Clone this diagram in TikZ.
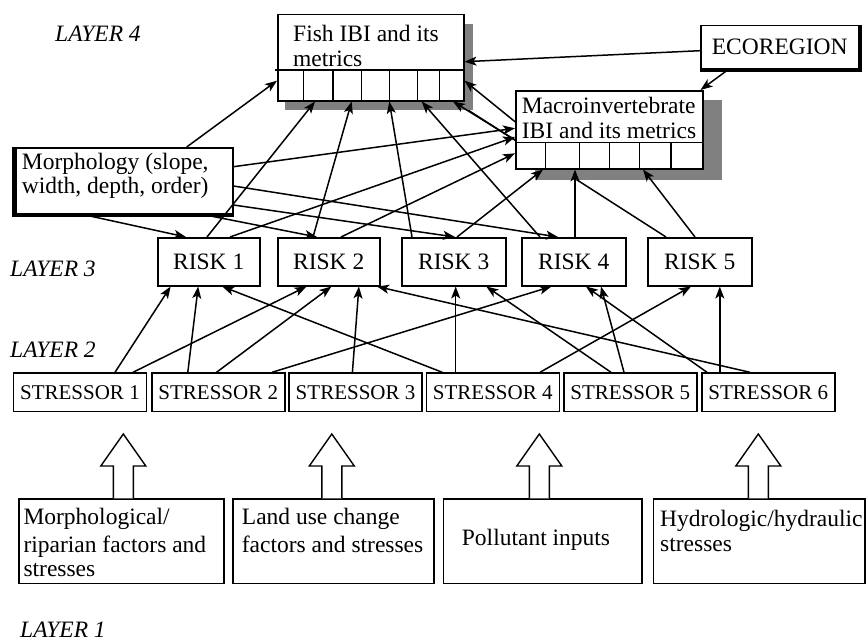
\documentclass[tikz,border=0pt]{standalone}
\usepackage{fontspec}
\setmainfont{Liberation Serif}
\usetikzlibrary{arrows.meta}
\definecolor{shadowgray}{RGB}{128,128,128}
\newcommand\mainsz{\fontsize{23.5}{25}\selectfont}
\newcommand\strsz{\fontsize{21}{22}\selectfont}
\begin{document}
\begin{tikzpicture}[x=1pt,y=-1pt,
  box/.style={draw, line width=1.5pt, fill=white, inner sep=0pt, anchor=north west, font=\mainsz},
  sbox/.style={box, font=\strsz, minimum width=133pt, minimum height=38.4pt},
  rbox/.style={box, minimum height=48pt},
  bbox/.style={box, minimum height=84.4pt},
  txt/.style={inner sep=0pt, anchor=base west, font=\mainsz},
  layer/.style={inner sep=0pt, anchor=base west, font=\mainsz\itshape},
  conn/.style={line width=1.5pt, -{Stealth[length=12pt,width=9pt,inset=3pt]}},
  plainline/.style={line width=1.5pt},
  thin/.style={line width=1.5pt},
  blockarr/.pic={\draw[line width=1.4pt, fill=white] (-10,0) -- (-10,-32.3) -- (-22.5,-32.3) -- (0,-64.3) -- (22.5,-32.3) -- (10,-32.3) -- (10,0);}
]
\useasboundingbox (0,0) rectangle (867,642);

% ---- risk 5 to fish: drawn first, it passes behind the macroinvertebrate box
\node[inner sep=0pt, anchor=north west, minimum width=104pt, minimum height=48pt] (risk5ghost) at (647,237) {};
\node[inner sep=0pt, anchor=north west, minimum width=186pt, minimum height=86pt] (fishghost) at (277,14) {};
\draw[plainline] ([xshift=19pt]risk5ghost.north west) -- ([xshift=176pt]fishghost.south west);
\coordinate (hidB) at (515,140);

% ---- shadows
\fill[shadowgray] (285,24) rectangle (473,110);
\fill[shadowgray] (535,100) rectangle (722,180);

% ---- boxes
\node[box, minimum width=186pt, minimum height=86pt] (fish) at (277,14) {};
\node[box, minimum width=187pt, minimum height=78pt] (macro) at (515,90) {};
\node[box, minimum width=158pt, minimum height=43pt] (eco) at (700,25) {ECOREGION};
\node[box, minimum width=217pt, minimum height=66pt] (morph) at (15,147) {};

\node[rbox, minimum width=102pt] (risk1) at (157,237) {RISK 1};
\node[rbox, minimum width=102pt] (risk2) at (277,237) {RISK 2};
\node[rbox, minimum width=104pt] (risk3) at (401,237) {RISK 3};
\node[rbox, minimum width=104pt] (risk4) at (521,237) {RISK 4};
\node[rbox, minimum width=104pt] (risk5) at (647,237) {RISK 5};

\node[sbox] (s1) at (12.7,372.3) {STRESSOR 1};
\node[sbox] (s2) at (151,372.3) {STRESSOR 2};
\node[sbox] (s3) at (288.3,372.3) {STRESSOR 3};
\node[sbox] (s4) at (425.5,372.3) {STRESSOR 4};
\node[sbox] (s5) at (563,372.3) {STRESSOR 5};
\node[sbox] (s6) at (701,372.3) {STRESSOR 6};

\node[bbox, minimum width=205pt] (b1) at (18.3,498.3) {};
\node[bbox, minimum width=201pt] (b2) at (232.3,498.3) {};
\node[bbox, minimum width=198.3pt] (b3) at (442.7,498.3) {};
\node[bbox, minimum width=211.3pt] (b4) at (652.7,498.3) {};

% ---- thick edges
\draw[line width=3.5pt] ([xshift=-1pt]morph.north west) -- ([xshift=-1pt,yshift=-1pt]morph.south west) -- ([yshift=-1pt]morph.south east);
\draw[line width=3.2pt] ([xshift=1pt]eco.north east) -- ([xshift=1pt,yshift=-1pt]eco.south east) -- ([yshift=-1pt]eco.south west);

% ---- metric cells
\draw[thin] ([xshift=-2pt,yshift=-56pt]fish.north west) -- ([yshift=-56pt]fish.north east);
\foreach \dx in {26.3,56,84.7,112.3,140.5,162.7}
  \draw[thin] ([xshift=\dx pt,yshift=-56pt]fish.north west) -- ([xshift=\dx pt]fish.south west);
\draw[thin] ([yshift=-52.7pt]macro.north west) -- ([yshift=-52.7pt]macro.north east);
\foreach \dx in {30.7,64.3,94.3,124.3,156}
  \draw[thin] ([xshift=\dx pt,yshift=-52.7pt]macro.north west) -- ([xshift=\dx pt]macro.south west);

% ---- texts
\node[txt] (fisht1) at (293,41.7) {Fish IBI and its};
\node[txt] (fisht2) at (293,66.7) {metrics};
\node[txt] (macrot1) at (521.7,113) {Macroinvertebrate};
\node[txt] (macrot2) at (521.7,138) {IBI and its metrics};
\node[txt] (morpht1) at (21.7,169) {Morphology (slope,};
\node[txt] (morpht2) at (21.7,193.3) {width, depth, order)};
\node[txt] (b1t1) at (23.3,524) {Morphological/};
\node[txt] (b1t2) at (23.3,552.7) {riparian factors and};
\node[txt] (b1t3) at (23.3,576.7) {stresses};
\node[txt] (b2t1) at (241.7,524) {Land use change};
\node[txt] (b2t2) at (241.7,552.7) {factors and stresses};
\node[txt] (b3t1) at (461.7,545) {Pollutant inputs};
\node[txt] (b4t1) at (660,526) {Hydrologic/hydraulic};
\node[txt] (b4t2) at (660,551.7) {stresses};

\node[layer] (l4) at (55,41.7) {LAYER 4};
\node[layer] (l3) at (10,276) {LAYER 3};
\node[layer] (l2) at (10,357) {LAYER 2};
\node[layer] (l1) at (20,637) {LAYER 1};

% ---- block arrows
\pic at ([xshift=105pt]b1.north west) {blockarr};
\pic at ([xshift=99.5pt]b2.north west) {blockarr};
\pic at ([xshift=96.6pt]b3.north west) {blockarr};
\pic at ([xshift=105.6pt]b4.north west) {blockarr};

% ---- connectors, top layer
\draw[conn] ([xshift=171.7pt]morph.north west) -- ([yshift=-66.7pt]fish.north west);
\draw[conn] ([yshift=-25.7pt]eco.north west) -- ([yshift=-47.7pt]fish.north east);
\draw[conn] ([xshift=28.3pt]eco.south west) -- ([xshift=-3pt]macro.north east);
\draw[conn] ([yshift=-31.7pt]macro.north west) -- ([yshift=-66.7pt]fish.north east);
\draw[conn] ([yshift=-19.7pt]morph.north east) -- ([yshift=-38.3pt]macro.north west);
\draw[conn] ([yshift=-39pt]morph.north east) -- ([xshift=37pt]risk4.north west);
\draw[conn] ([yshift=-58pt]morph.north east) -- ([xshift=54pt]risk3.north west);
\draw[conn] ([xshift=188pt]morph.south west) -- ([xshift=40pt]risk2.north west);
\draw[conn] ([xshift=68pt]morph.south west) -- ([xshift=29pt]risk1.north west);

\draw[conn] ([xshift=50pt]risk1.north west) -- ([xshift=38pt]fish.south west);
\draw[conn] ([xshift=73pt]risk1.north west) -- ([yshift=-47pt]macro.north west);
\draw[conn] ([xshift=36pt]risk2.north west) -- ([xshift=74.7pt]fish.south west);
\draw[conn] ([xshift=64pt]risk2.north west) -- ([yshift=-63.3pt]macro.north west);
\draw[conn] ([xshift=11pt]risk3.north west) -- ([xshift=112.3pt]fish.south west);
\draw[conn] ([xshift=56pt]risk3.north west) -- ([xshift=28pt]macro.south west);
\draw[conn] ([xshift=19pt]risk4.north west) -- ([xshift=144.7pt]fish.south west);
\draw[conn] ([xshift=54pt]risk4.north west) -- ([xshift=60pt]macro.south west);
\draw[conn] ([xshift=48pt]risk5.north west) -- ([xshift=128pt]macro.south west);
\draw[conn] (hidB) -- ([xshift=176pt]fish.south west);

% ---- stressors to risks
\draw[conn] ([xshift=102.3pt]s1.north west) -- ([xshift=13.6pt]risk1.south west);
\draw[conn] ([xshift=120.3pt]s1.north west) -- ([xshift=29.5pt]risk2.south west);
\draw[conn] ([xshift=36.8pt]s2.north west) -- ([xshift=41.2pt]risk1.south west);
\draw[conn] ([xshift=65.5pt]s2.north west) -- ([xshift=54.4pt]risk2.south west);
\draw[conn] ([xshift=121pt]s2.north west) -- ([xshift=30.4pt]risk4.south west);
\draw[conn] ([xshift=64.1pt]s3.north west) -- ([xshift=81.9pt]risk2.south west);
\draw[conn] ([xshift=16.8pt]s4.north west) -- ([xshift=65.3pt]risk1.south west);
\draw[conn] ([xshift=30.2pt]s4.north west) -- ([xshift=54.7pt]risk3.south west);
\draw[conn] ([xshift=114.5pt]s4.north west) -- ([xshift=44pt]risk5.south west);
\draw[conn] ([xshift=48pt]s5.north west) -- ([xshift=85.3pt]risk3.south west);
\draw[conn] ([xshift=61pt]s5.north west) -- ([xshift=80pt]risk4.south west);
\draw[conn] ([xshift=6pt]s6.north west) -- ([xshift=64.9pt]risk4.south west);
\draw[conn] ([xshift=18.8pt]s6.north west) -- ([xshift=72.8pt]risk5.south west);
\draw[conn] ([xshift=49pt]s6.north west) -- ([xshift=100pt]risk2.south west);
\end{tikzpicture}
\end{document}
